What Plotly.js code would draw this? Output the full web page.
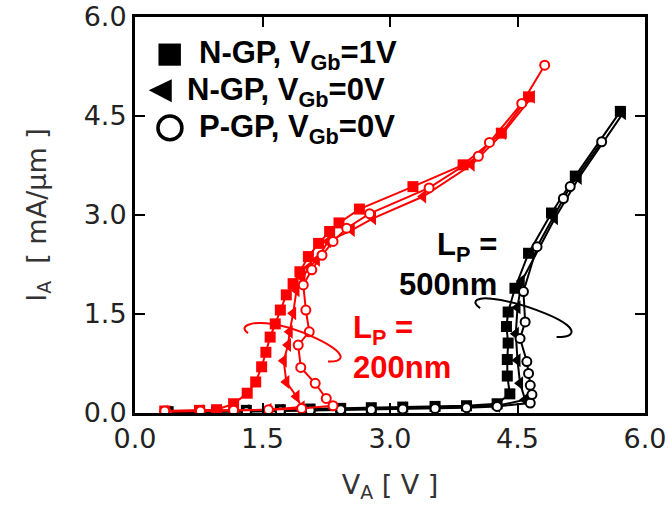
<!DOCTYPE html>
<html>
<head>
<meta charset="utf-8">
<script src="https://cdn.plot.ly/plotly-3.0.1.min.js"></script>
<style>html,body{margin:0;padding:0;background:#fff;}</style>
</head>
<body>
<div id="chart" style="width:669px;height:511px;"></div>
<script>
// L_P = 200 nm (red)
const redSqV = [0.35,0.76,0.96,1.16,1.32,1.42,1.49,1.54,1.59,1.65,1.71,1.78,1.86,1.94,2.04,2.16,2.29,2.40,2.64,3.27,3.86,4.31,4.63];
const redSqI = [0.03,0.04,0.05,0.14,0.30,0.47,0.70,0.92,1.15,1.35,1.56,1.79,1.96,2.14,2.37,2.57,2.75,2.88,3.09,3.43,3.76,4.24,4.79];
const redTrV = [0.35,0.77,1.16,1.57,1.96,1.90,1.78,1.75,1.80,1.82,1.86,1.90,1.97,2.05,2.14,2.27,2.55,2.80,3.39,3.96,4.33,4.67];
const redTrI = [0.02,0.03,0.04,0.05,0.09,0.25,0.47,0.79,1.03,1.23,1.51,1.86,2.05,2.21,2.32,2.60,2.77,2.95,3.28,3.76,4.24,4.79];
const redCiV = [0.35,0.77,1.16,1.57,1.96,2.33,2.25,2.12,1.95,1.92,2.05,2.01,1.98,2.08,2.20,2.33,2.49,2.76,3.46,4.04,4.17,4.55,4.82];
const redCiI = [0.03,0.03,0.04,0.05,0.07,0.11,0.22,0.45,0.69,1.03,1.23,1.56,1.94,2.17,2.39,2.60,2.80,3.02,3.41,3.89,4.10,4.69,5.27];
// L_P = 500 nm (black)
const blkSqV = [0.39,0.76,0.96,1.31,1.71,2.06,2.42,2.78,3.15,3.53,3.90,4.26,4.41,4.38,4.38,4.39,4.37,4.39,4.47,4.63,4.90,5.18,5.71];
const blkSqI = [0.02,0.03,0.03,0.04,0.05,0.06,0.07,0.08,0.09,0.10,0.11,0.14,0.29,0.56,0.81,1.06,1.31,1.53,1.89,2.42,3.03,3.59,4.57];
const blkTrV = [0.39,0.76,1.31,1.71,2.06,2.42,2.78,3.15,3.53,3.90,4.26,4.59,4.53,4.50,4.48,4.50,4.55,4.94,5.22,5.74];
const blkTrI = [0.01,0.02,0.03,0.04,0.04,0.05,0.06,0.07,0.08,0.09,0.11,0.20,0.45,0.80,1.20,1.60,2.00,2.95,3.56,4.54];
const blkCiV = [0.39,0.76,1.31,1.71,2.06,2.42,2.78,3.15,3.53,3.90,4.26,4.65,4.67,4.65,4.63,4.61,4.53,4.59,4.57,4.73,5.04,5.12,5.49];
const blkCiI = [0.01,0.02,0.02,0.03,0.04,0.05,0.05,0.06,0.07,0.08,0.10,0.15,0.28,0.42,0.60,0.78,1.13,1.38,1.84,2.52,3.25,3.43,4.11];

const tickVals = [0, 1.5, 3.0, 4.5, 6.0];
const tickText = ['0.0', '1.5', '3.0', '4.5', '6.0'];
const legendLabels = ['N-GP, V<sub>Gb</sub>=1V', 'N-GP, V<sub>Gb</sub>=0V', 'P-GP, V<sub>Gb</sub>=0V'];

const RED = '#ff0000', BLK = '#000000';
function sq(x, y, c) { return {x, y, type:'scatter', mode:'lines+markers', line:{color:c, width:2}, marker:{symbol:'square', size:11, color:c}, showlegend:false}; }
function tr(x, y, c) { return {x, y, type:'scatter', mode:'lines+markers', line:{color:c, width:2}, marker:{symbol:'triangle-left', size:12, color:c}, showlegend:false}; }
function ci(x, y, c) { return {x, y, type:'scatter', mode:'lines+markers', line:{color:c, width:2}, marker:{symbol:'circle', size:9, color:'#fff', line:{color:c, width:2}}, showlegend:false}; }

const data = [
  sq(blkSqV, blkSqI, BLK), tr(blkTrV, blkTrI, BLK), ci(blkCiV, blkCiI, BLK),
  sq(redSqV, redSqI, RED), tr(redTrV, redTrI, RED), ci(redCiV, redCiI, RED)
];

const axisCommon = {
  range:[0,6], tickvals:tickVals, ticktext:tickText, ticks:'inside', ticklen:10, tickwidth:2, tickcolor:'#000',
  showline:true, linewidth:3, linecolor:'#000', mirror:'ticks', showgrid:false, zeroline:false,
  tickfont:{family:'DejaVu Sans', size:27, color:'#222'}
};

const boldFont = (c, s) => ({family:'Liberation Sans', size:s, color:c});

const layout = {
  width:669, height:511,
  margin:{l:135, r:24, t:17, b:98},
  paper_bgcolor:'#fff', plot_bgcolor:'#fff',
  showlegend:false,
  xaxis: Object.assign({}, axisCommon, {title:{text:'V<sub>A</sub> [ V ]', font:{family:'DejaVu Sans', size:27, color:'#333'}, standoff:22}}),
  yaxis: Object.assign({}, axisCommon, {title:{text:'I<sub>A</sub>  [ mA/μm ]', font:{family:'DejaVu Sans', size:27, color:'#333'}, standoff:30}}),
  shapes:[
    {type:'rect', xref:'paper', yref:'paper', x0:0.046, x1:0.090, y0:0.877, y1:0.933, fillcolor:'#000', line:{width:0}},
    {type:'path', xref:'paper', yref:'paper', path:'M0.027,0.815 L0.072,0.843 L0.072,0.785 Z', fillcolor:'#000', line:{width:0}},
    {type:'circle', xref:'paper', yref:'paper', x0:0.045, x1:0.092, y0:0.690, y1:0.750, fillcolor:'#fff', line:{color:'#000', width:3.5}},
    {type:'path', xref:'x', yref:'y', path:'M1.33,1.21 C1.20,1.33 1.40,1.38 1.55,1.36 C1.90,1.32 2.50,0.95 2.41,0.82 C2.38,0.77 2.32,0.78 2.27,0.78', line:{color:RED, width:2}},
    {type:'path', xref:'x', yref:'y', path:'M4.06,1.59 C3.93,1.70 4.05,1.76 4.20,1.73 C4.55,1.68 5.25,1.35 5.12,1.19 C5.09,1.15 5.02,1.15 4.96,1.15', line:{color:BLK, width:2}}
  ],
  annotations:[
    {xref:'paper', yref:'paper', x:0.1216, y:0.905, xanchor:'left', yanchor:'middle', showarrow:false, text:'<b>'+legendLabels[0]+'</b>', font:boldFont('#000',31)},
    {xref:'paper', yref:'paper', x:0.098, y:0.810, xanchor:'left', yanchor:'middle', showarrow:false, text:'<b>'+legendLabels[1]+'</b>', font:boldFont('#000',31)},
    {xref:'paper', yref:'paper', x:0.1216, y:0.716, xanchor:'left', yanchor:'middle', showarrow:false, text:'<b>'+legendLabels[2]+'</b>', font:boldFont('#000',31)},
    {xref:'paper', yref:'paper', x:0.4235, y:0.166, xanchor:'left', yanchor:'middle', align:'left', showarrow:false, text:'<b>L<sub>P</sub> =<br>200nm</b>', font:boldFont(RED,31)},
    {xref:'paper', yref:'paper', x:0.714, y:0.376, xanchor:'right', yanchor:'middle', align:'right', showarrow:false, text:'<b>L<sub>P</sub> =<br>500nm</b>', font:boldFont('#000',31)}
  ]
};

Plotly.newPlot('chart', data, layout, {displayModeBar:false, staticPlot:true});
</script>
</body>
</html>
